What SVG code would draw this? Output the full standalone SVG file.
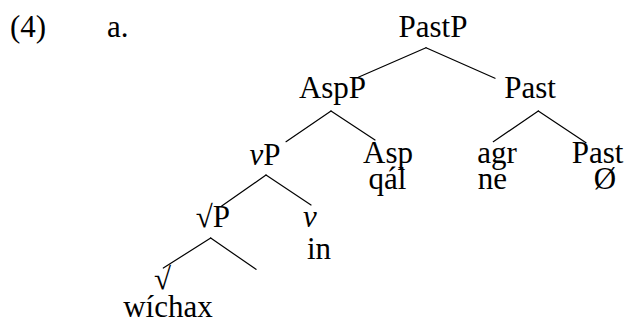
<svg xmlns="http://www.w3.org/2000/svg" width="631" height="324" viewBox="0 0 631 324">
<style>
text{font-family:"Times New Roman",Tinos,"Liberation Serif","DejaVu Serif",serif;font-size:31px;fill:#000}
.m{text-anchor:middle}
.i{font-style:italic}
#edges line{stroke:#000;stroke-width:1.2;stroke-linecap:round}
</style>
<rect width="631" height="324" fill="#fff"/>
<g id="label"><text x="10" y="37">(4)</text><text x="107" y="37">a.</text></g>
<g id="edges">
<line x1="426" y1="47.7" x2="358.3" y2="77.3"/>
<line x1="426" y1="47.7" x2="495" y2="78.3"/>
<line x1="331" y1="111" x2="286" y2="141.7"/>
<line x1="331" y1="111" x2="375" y2="140"/>
<line x1="538.3" y1="111" x2="493.3" y2="141.7"/>
<line x1="538.3" y1="111" x2="586" y2="142.7"/>
<line x1="266" y1="175" x2="221.7" y2="206"/>
<line x1="266" y1="175" x2="311" y2="205"/>
<line x1="210.7" y1="238" x2="163.3" y2="268"/>
<line x1="210.7" y1="238" x2="256" y2="269.3"/>
</g>
<g id="PastP"><text class="m" x="433" y="37">PastP</text></g>
<g id="AspP"><text class="m" x="332.5" y="98">AspP</text></g>
<g id="Past1"><text class="m" x="530" y="98">Past</text></g>
<g id="vP"><text class="m" x="265" y="165"><tspan class="i">v</tspan>P</text></g>
<g id="Asp"><text class="m" x="388" y="163">Asp</text><text class="m" x="387.5" y="189">qál</text></g>
<g id="agr"><text class="m" x="497" y="163">agr</text><text class="m" x="492.5" y="189">ne</text></g>
<g id="Past2"><text class="m" x="597.5" y="163">Past</text><text class="m" x="605" y="189">Ø</text></g>
<g id="rootP"><text class="m" x="213" y="227">√P</text></g>
<g id="v"><text class="m i" x="310" y="227">v</text><text class="m" x="319" y="259">in</text></g>
<g id="root"><text class="m" x="162.5" y="289">√</text><text class="m" x="168" y="317">wíchax</text></g>
</svg>
